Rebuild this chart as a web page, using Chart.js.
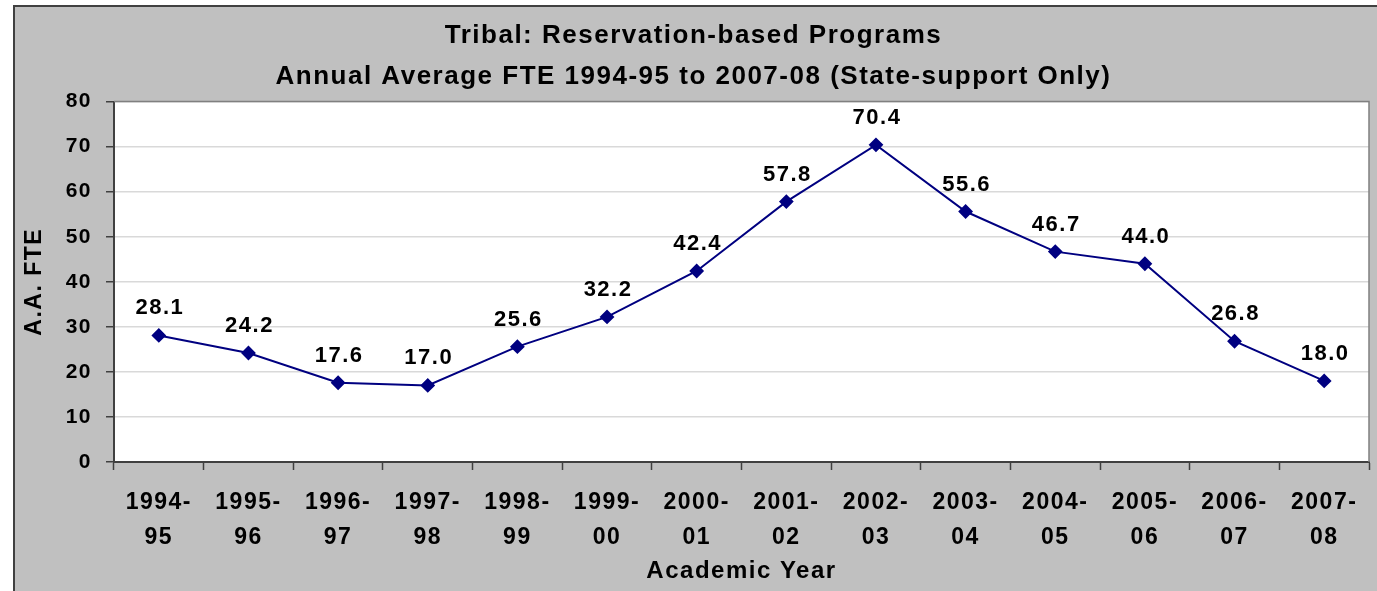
<!DOCTYPE html>
<html>
<head>
<meta charset="utf-8">
<script src="https://cdn.jsdelivr.net/npm/chart.js@4.4.1/dist/chart.umd.min.js"></script>
<style>
html,body{margin:0;padding:0;background:#fff;}
#wrap{width:1377px;height:591px;}
</style>
</head>
<body>
<div id="wrap"><canvas id="c" width="1377" height="591"></canvas></div>
<script>
const titleLines = ['Tribal: Reservation-based Programs', 'Annual Average FTE 1994-95 to 2007-08 (State-support Only)'];
const categories = ['1994-95','1995-96','1996-97','1997-98','1998-99','1999-00','2000-01','2001-02','2002-03','2003-04','2004-05','2005-06','2006-07','2007-08'];
const tickLabels = [['1994-','95'],['1995-','96'],['1996-','97'],['1997-','98'],['1998-','99'],['1999-','00'],['2000-','01'],['2001-','02'],['2002-','03'],['2003-','04'],['2004-','05'],['2005-','06'],['2006-','07'],['2007-','08']];
const fteValues = [28.1, 24.2, 17.6, 17.0, 25.6, 32.2, 42.4, 57.8, 70.4, 55.6, 46.7, 44.0, 26.8, 18.0];
const yTitle = 'A.A. FTE';
const xTitle = 'Academic Year';

const FONT = "'Liberation Sans', Arial, sans-serif";

const frame = {
  id: 'frame',
  beforeDraw(chart) {
    const ctx = chart.ctx;
    const a = chart.chartArea;
    ctx.save();
    ctx.fillStyle = '#ffffff';
    ctx.fillRect(0, 0, chart.width, chart.height);
    ctx.fillStyle = '#c0c0c0';
    ctx.fillRect(14, 6, chart.width - 14, chart.height - 6);
    ctx.strokeStyle = '#404040';
    ctx.lineWidth = 2;
    ctx.beginPath();
    ctx.moveTo(14, chart.height);
    ctx.lineTo(14, 6);
    ctx.lineTo(chart.width, 6);
    ctx.stroke();
    ctx.fillStyle = '#ffffff';
    ctx.fillRect(a.left, a.top, a.right - a.left, a.bottom - a.top);
    ctx.restore();
    if ('letterSpacing' in ctx) ctx.letterSpacing = '1.5px';
  },
  afterDatasetsDraw(chart) {
    const ctx = chart.ctx;
    const a = chart.chartArea;
    ctx.save();
    ctx.strokeStyle = '#808080';
    ctx.lineWidth = 1.5;
    ctx.beginPath();
    ctx.moveTo(a.left, a.top);
    ctx.lineTo(a.right, a.top);
    ctx.lineTo(a.right, a.bottom);
    ctx.stroke();
    const meta = chart.getDatasetMeta(0);
    ctx.fillStyle = '#000000';
    ctx.font = 'bold 22px ' + FONT;
    ctx.textAlign = 'center';
    ctx.textBaseline = 'middle';
    meta.data.forEach((pt, i) => {
      const v = chart.data.datasets[0].data[i];
      ctx.fillText(v.toFixed(1), pt.x + 1, pt.y - 27);
    });
    ctx.restore();
  }
};

new Chart(document.getElementById('c'), {
  type: 'line',
  data: {
    labels: tickLabels,
    datasets: [{
      data: fteValues,
      borderColor: '#000080',
      backgroundColor: '#000080',
      borderWidth: 2,
      pointStyle: 'rectRot',
      pointRadius: 6,
      pointHoverRadius: 6,
      pointBackgroundColor: '#000080',
      pointBorderColor: '#000080',
      tension: 0,
      fill: false
    }]
  },
  options: {
    responsive: false,
    animation: false,
    events: [],
    layout: { padding: { top: 0, left: 14, right: 4, bottom: 0 } },
    plugins: {
      legend: { display: false },
      tooltip: { enabled: false },
      title: {
        display: true,
        text: titleLines,
        color: '#000000',
        font: { family: FONT, size: 26, weight: 'bold', lineHeight: 1.55 },
        padding: { top: 16, bottom: 5 }
      }
    },
    scales: {
      x: {
        offset: true,
        grid: { offset: true, drawOnChartArea: false, drawTicks: true, tickLength: 8, tickColor: '#404040', tickWidth: 1.5 },
        border: { color: '#404040', width: 2 },
        ticks: {
          color: '#000000',
          font: { family: FONT, size: 23, weight: 'bold', lineHeight: 1.52 },
          padding: 15,
          maxRotation: 0,
          autoSkip: false
        },
        title: {
          display: true,
          text: xTitle,
          color: '#000000',
          font: { family: FONT, size: 24, weight: 'bold', lineHeight: 1.2 },
          padding: { top: 0, bottom: 5 }
        },
        afterFit(scale) { scale.height = 129; }
      },
      y: {
        min: 0,
        max: 80,
        ticks: {
          stepSize: 10,
          color: '#000000',
          font: { family: FONT, size: 21, weight: 'bold' },
          padding: 14
        },
        grid: { color: '#d9d9d9', lineWidth: 1.5, drawTicks: true, tickLength: 8, tickColor: '#404040', tickWidth: 1.5 },
        border: { color: '#404040', width: 2 },
        title: {
          display: true,
          text: yTitle,
          color: '#000000',
          font: { family: FONT, size: 23, weight: 'bold', lineHeight: 1.2 },
          padding: { top: 7, bottom: 0 }
        },
        afterFit(scale) { scale.width = 100; }
      }
    }
  },
  plugins: [frame]
});
</script>
</body>
</html>
